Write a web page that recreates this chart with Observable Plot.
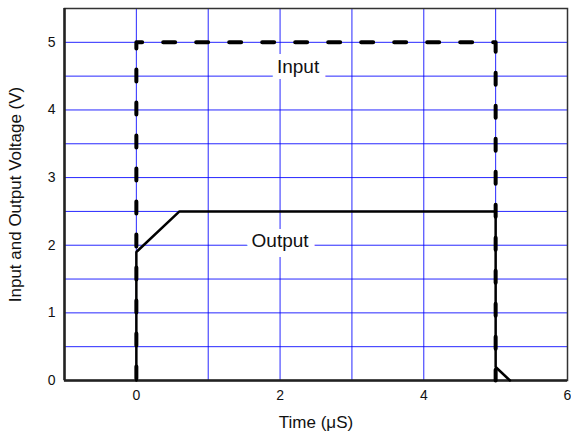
<!DOCTYPE html>
<html>
<head>
<meta charset="utf-8">
<script src="https://cdn.jsdelivr.net/npm/d3@7"></script>
<script src="https://cdn.jsdelivr.net/npm/@observablehq/plot@0.6"></script>
<style>
  html, body { margin: 0; padding: 0; background: #fff; }
  #chart svg { display: block; }
</style>
</head>
<body>
<div id="chart"></div>
<script>
// Input pulse (dashed)
const inputTime = [0, 0, 5, 5];
const inputVolt = [0, 5, 5, 0];
// Output response (solid)
const outputTime = [0, 0, 0.6, 5, 5, 5.2];
const outputVolt = [0, 1.9, 2.5, 2.5, 0.2, 0];
// Axes
const xTicks = [0, 2, 4, 6];
const yTicks = [0, 1, 2, 3, 4, 5];
const xGrid = [0, 1, 2, 3, 4, 5];
const yGrid = [0.5, 1, 1.5, 2, 2.5, 3, 3.5, 4, 4.5, 5];
// Annotations
const labelNames = ["Input", "Output"];
const labelTime = [2.25, 2.0];
const labelVolt = [4.63, 2.07];

const inputData = inputTime.map((t, i) => ({t, v: inputVolt[i]}));
const outputData = outputTime.map((t, i) => ({t, v: outputVolt[i]}));
const labels = labelNames.map((name, i) => ({name, t: labelTime[i], v: labelVolt[i]}));

const chart = Plot.plot({
  width: 571,
  height: 436,
  marginLeft: 64,
  marginRight: 4,
  marginTop: 8,
  marginBottom: 56,
  style: {fontFamily: "'Liberation Sans', Arial, sans-serif", color: "#111", background: "#fff"},
  x: {domain: [-1, 6]},
  y: {domain: [0, 5.5]},
  marks: [
    Plot.gridX(xGrid, {stroke: "#0000ff", strokeOpacity: 0.85, strokeWidth: 1}),
    Plot.gridY(yGrid, {stroke: "#0000ff", strokeOpacity: 0.85, strokeWidth: 1}),
    Plot.frame({stroke: "#333", strokeWidth: 1.5}),
    Plot.ruleX([-1], {stroke: "#222", strokeWidth: 2.5}),
    Plot.ruleY([0], {stroke: "#222", strokeWidth: 2.5}),
    Plot.axisX(xTicks, {tickSize: 0, tickPadding: 10, fontSize: 14, label: null, tickFormat: d3.format("d")}),
    Plot.axisY(yTicks, {tickSize: 0, tickPadding: 9, fontSize: 14, label: null, tickFormat: d3.format("d")}),
    Plot.axisX([], {label: "Time (μS)", labelAnchor: "center", labelOffset: 47, labelArrow: "none", fontSize: 17, tickSize: 0}),
    Plot.axisY([], {label: "Input and Output Voltage (V)", labelAnchor: "center", labelOffset: 56, labelArrow: "none", fontSize: 17, tickSize: 0}),
    Plot.text(labels, {x: "t", y: "v", text: "name", fontSize: 19, fill: "#111", stroke: "white", strokeWidth: 12, strokeLinejoin: "miter"}),
    Plot.line(outputData, {x: "t", y: "v", stroke: "black", strokeWidth: 2.5, strokeLinejoin: "miter"}),
    Plot.line(inputData, {x: "t", y: "v", stroke: "black", strokeWidth: 4, strokeDasharray: "12,21", strokeDashoffset: -2, strokeLinecap: "round", strokeLinejoin: "round"})
  ]
});
document.getElementById("chart").appendChild(chart);
</script>
</body>
</html>
